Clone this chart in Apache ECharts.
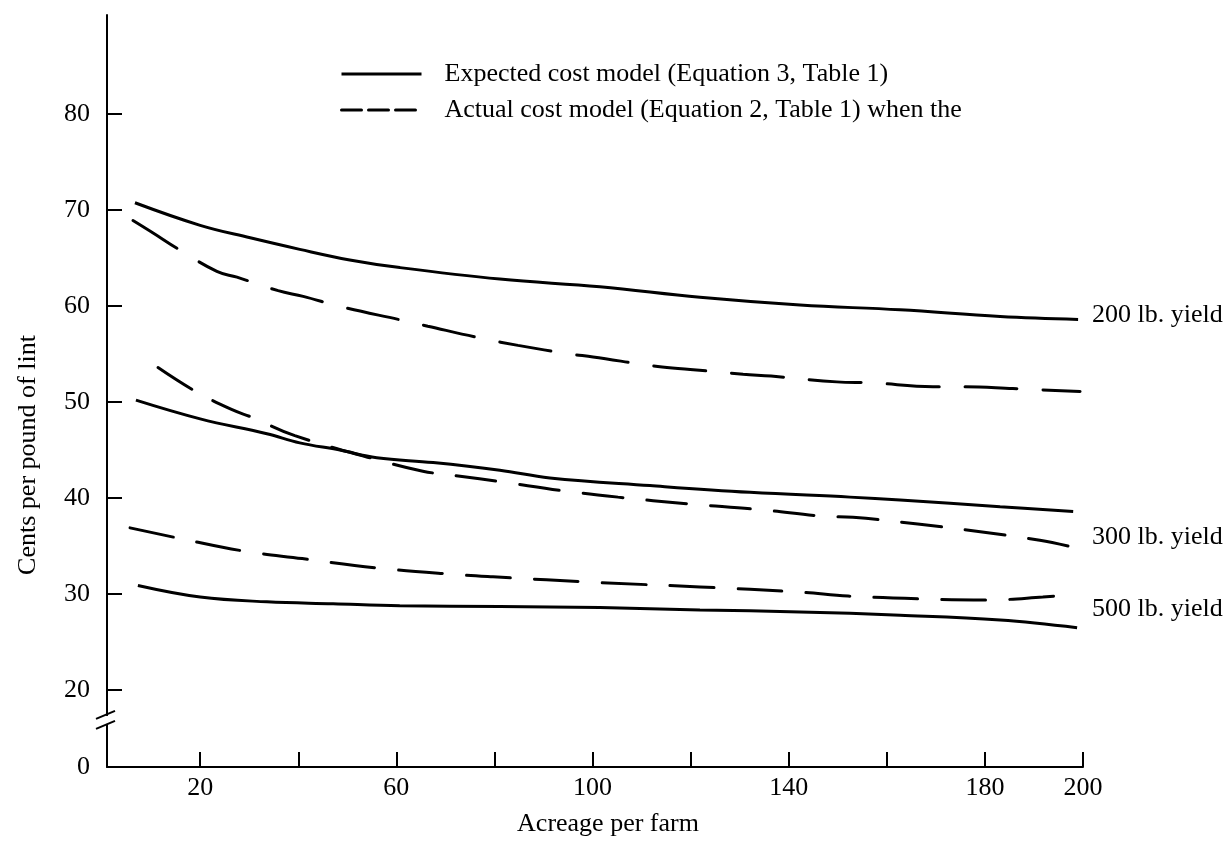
<!DOCTYPE html>
<html>
<head>
<meta charset="utf-8">
<script src="https://cdn.jsdelivr.net/npm/echarts@6/dist/echarts.min.js"></script>
<style>html,body{margin:0;padding:0;background:#fff}#c{width:1229px;height:842px}</style>
</head>
<body>
<div id="c"></div>
<script>
const FONT = '"Liberation Serif", "Times New Roman", serif';

// Axis ticks and labels
const xTickValues = [20, 40, 60, 80, 100, 120, 140, 160, 180, 200];
const xLabelValues = [20, 60, 100, 140, 180, 200];
const yTickValues = [20, 30, 40, 50, 60, 70, 80];
const yLabelValues = [12, 20, 30, 40, 50, 60, 70, 80]; // 12 = broken-axis origin shown as "0"
const yOriginValue = 12;

const legendNames = [
  'Expected cost model (Equation 3, Table 1)',
  'Actual cost model (Equation 2, Table 1) when the'
];
const yieldLabels = ['200 lb. yield', '300 lb. yield', '500 lb. yield'];

// Series values [acres, cents per pound]
const expected200 = [[6.7,70.75],[20,68.4],[30.2,67.1],[40.3,65.9],[50.5,64.8],[60.7,64.0],[81.1,62.8],[101.5,62.0],[121.9,60.9],[142.3,60.1],[162.7,59.6],[183.1,58.9],[199,58.6]];
const actual200 = [[6.3,68.9],[10.4,67.6],[15.3,66.0],[23.4,63.6],[27.5,63.0],[35.9,61.6],[41,61.0],[48.9,59.9],[61.3,58.5],[66.4,57.9],[77.7,56.6],[84.8,55.9],[95.4,55.0],[100.1,54.7],[113.3,53.7],[119.9,53.4],[130.7,52.9],[136.4,52.7],[149.8,52.1],[157,52.0],[169.4,51.6],[175.9,51.6],[185.7,51.4],[199.4,51.1]];
const expected300 = [[6.9,50.2],[20,48.25],[33.6,46.7],[40.3,45.75],[48.5,45.0],[56,44.2],[67.5,43.7],[81.1,42.9],[91.3,42.1],[111.7,41.3],[132.1,40.6],[152.5,40.1],[162.7,39.8],[183.1,39.1],[198,38.6]];
const actual300 = [[11.4,53.6],[19.1,51.1],[26.5,49.2],[30.6,48.4],[39.3,46.5],[56,44.0],[65.4,42.8],[72.6,42.3],[81.3,41.7],[94.2,40.75],[105.2,40.1],[119.5,39.4],[134.1,38.8],[147.2,38.1],[153.1,38.0],[166.3,37.3],[180.6,36.4],[191.2,35.6],[198.8,34.8]];
const expected500 = [[7.3,30.9],[20,29.7],[33.6,29.2],[47.1,29.0],[60.7,28.8],[81.1,28.7],[101.5,28.6],[121.9,28.35],[142.3,28.15],[162.7,27.8],[183.1,27.3],[198.8,26.5]];
const actual500 = [[5.7,36.9],[16.3,35.75],[28.7,34.5],[40.8,33.7],[56.5,32.7],[73.4,32.0],[79.7,31.8],[101.5,31.2],[121.9,30.75],[142.3,30.2],[152.1,29.8],[166.8,29.5],[181,29.4],[191.8,29.7],[198.8,30.0]];

const chart = echarts.init(document.getElementById('c'), null, {renderer: 'canvas'});

const labelStyle = {fontFamily: FONT, fontSize: 26, color: '#000'};

function solid(data, endText, offset) {
  const s = {
    name: legendNames[0], type: 'line', data: data, showSymbol: false, symbol: 'none',
    smooth: 0.4, itemStyle: {color: '#000'}, lineStyle: {color: '#000', width: 3, type: 'solid'}, z: 3
  };
  if (endText) s.endLabel = Object.assign({show: true, formatter: endText, distance: 14, offset: offset, align: 'left', verticalAlign: 'middle'}, labelStyle);
  return s;
}
function dashed(data, dash, endText, offset) {
  const s = {
    name: legendNames[1], type: 'line', data: data, showSymbol: false, symbol: 'none',
    smooth: 0.4, itemStyle: {color: '#000'}, lineStyle: {color: '#000', width: 3, type: dash, cap: 'round'}, z: 3
  };
  if (endText) s.endLabel = Object.assign({show: true, formatter: endText, distance: 15, offset: offset, align: 'left', verticalAlign: 'middle'}, labelStyle);
  return s;
}

chart.setOption({
  animation: false,
  backgroundColor: '#fff',
  grid: {left: 107, right: 146, top: 15, bottom: 75, containLabel: false},
  legend: {
    orient: 'vertical', left: 335, top: 56, itemWidth: 80, itemHeight: 14, itemGap: 10,
    selectedMode: false,
    itemStyle: {opacity: 0},
    textStyle: {fontFamily: FONT, fontSize: 26, color: '#000', padding: [0, 0, 0, 18]},
    data: [
      {name: legendNames[0], itemStyle: {opacity: 0}, lineStyle: {color: '#000', width: 3, type: 'solid'}},
      {name: legendNames[1], itemStyle: {opacity: 0}, lineStyle: {color: '#000', width: 3, type: [20, 7]}}
    ]
  },
  xAxis: {
    type: 'value', min: 1, max: 200,
    name: 'Acreage per farm', nameLocation: 'middle', nameGap: 44,
    nameTextStyle: {fontFamily: FONT, fontSize: 26, color: '#000', padding: [0, 0, 0, 26]},
    axisLine: {show: true, lineStyle: {color: '#000', width: 2}},
    axisTick: {show: true, inside: true, length: 15, customValues: xTickValues, lineStyle: {color: '#000', width: 2}},
    axisLabel: {show: true, customValues: xLabelValues, margin: 8, fontFamily: FONT, fontSize: 26, color: '#000'},
    splitLine: {show: false}
  },
  yAxis: {
    type: 'value', min: yOriginValue, max: 90.3,
    name: 'Cents per pound of lint', nameLocation: 'middle', nameGap: 66, nameRotate: 90,
    nameTextStyle: {fontFamily: FONT, fontSize: 26, color: '#000', padding: [0, 128, 0, 0]},
    axisLine: {show: true, lineStyle: {color: '#000', width: 2}},
    axisTick: {show: true, inside: true, length: 15, customValues: yTickValues, lineStyle: {color: '#000', width: 2}},
    axisLabel: {
      show: true, customValues: yLabelValues, margin: 17, fontFamily: FONT, fontSize: 26, color: '#000',
      padding: [0, 0, 10, 0],
      formatter: v => (v === yOriginValue ? '0' : String(v))
    },
    splitLine: {show: false}
  },
  series: [
    solid(expected200, yieldLabels[0], [0, -4]),
    dashed(actual200, [52, 26]),
    solid(expected300),
    dashed(actual300, [40, 24], yieldLabels[1], [0, -11]),
    solid(expected500),
    dashed(actual500, [44, 24], yieldLabels[2], [0, 15])
  ]
});

// Axis break mark on the y axis (decoration), placed through the axis scale
const breakY = chart.convertToPixel({yAxisIndex: 0}, 16.9);
const axisX = chart.convertToPixel({xAxisIndex: 0}, 1);
chart.setOption({
  graphic: [
    {type: 'rect', shape: {x: axisX - 3, y: breakY - 4, width: 6, height: 8}, style: {fill: '#fff'}, z: 10},
    {type: 'line', shape: {x1: axisX - 11, y1: breakY - 1, x2: axisX + 8, y2: breakY - 9}, style: {stroke: '#000', lineWidth: 2}, z: 11},
    {type: 'line', shape: {x1: axisX - 11, y1: breakY + 9, x2: axisX + 8, y2: breakY + 1}, style: {stroke: '#000', lineWidth: 2}, z: 11}
  ]
});
</script>
</body>
</html>
